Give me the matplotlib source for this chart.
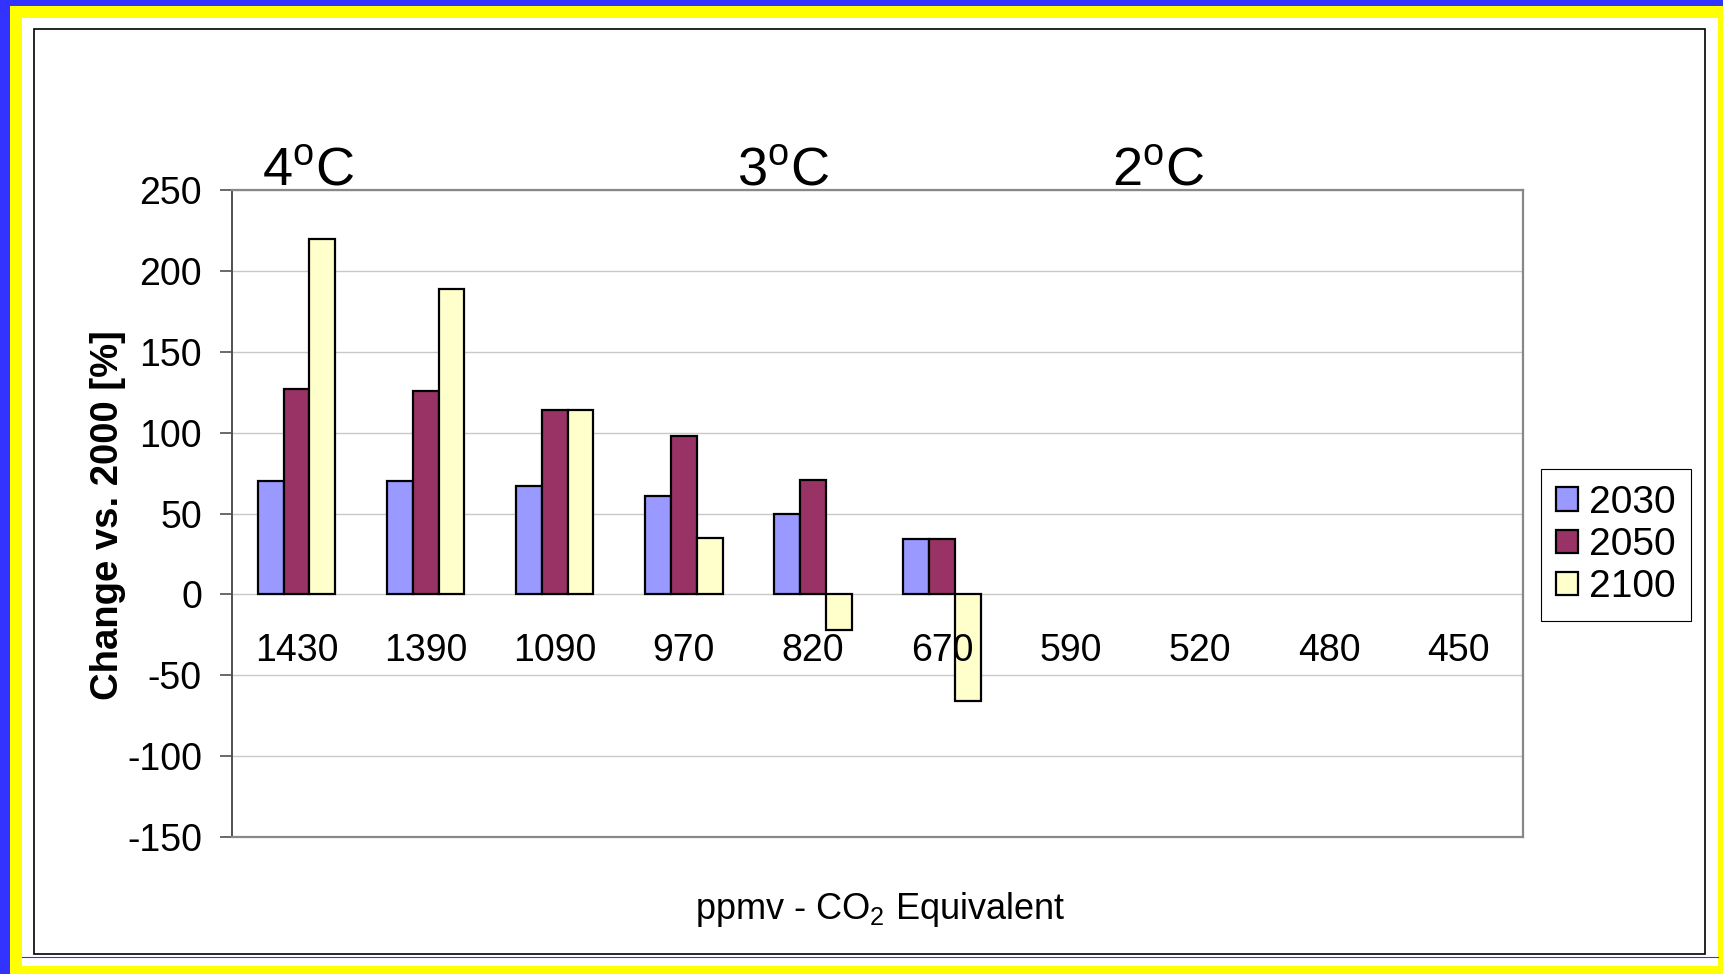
import numpy as np
import matplotlib.pyplot as plt
from matplotlib.patches import Rectangle
from matplotlib.lines import Line2D
from matplotlib.transforms import blended_transform_factory

# --- data ---
categories = ['1430', '1390', '1090', '970', '820', '670', '590', '520', '480', '450']
years = ['2030', '2050', '2100']
vals_2030 = [70, 70, 67, 61, 50, 34]
vals_2050 = [127, 126, 114, 98, 71, 34]
vals_2100 = [220, 189, 114, 35, -22, -66]
temp_labels = ['4', '3', '2']
temp_pos = [0.09, 3.77, 6.67]   # x position (category units) of the warming labels

colors = ['#9999ff', '#993366', '#ffffcc']

plt.rcParams['font.family'] = ['Liberation Sans', 'DejaVu Sans']
plt.rcParams['mathtext.fontset'] = 'custom'
plt.rcParams['mathtext.rm'] = 'Liberation Sans'
plt.rcParams['axes.unicode_minus'] = False

W, H = 1724, 974
fig = plt.figure(figsize=(W / 100, H / 100), dpi=100, facecolor='#ffff00')


def px_rect(x0, y0, x1, y1, **kw):
    fig.patches.append(Rectangle((x0 / W, 1 - y1 / H), (x1 - x0) / W, (y1 - y0) / H,
                                 transform=fig.transFigure, **kw))


# slide-style border: yellow frame, blue strips, white page, black chart frame
px_rect(22, 18, 1718, 966, facecolor='white', edgecolor='none', zorder=-10)
px_rect(0, 0, 10, H, facecolor='#3333ff', edgecolor='none', zorder=-10)
px_rect(0, 0, W, 6, facecolor='#3333ff', edgecolor='none', zorder=-10)
fig.lines.append(Line2D([22 / W, 1718 / W], [1 - 957 / H] * 2, transform=fig.transFigure,
                        color='#3333ff', lw=0.8, zorder=-5))
px_rect(34.3, 29.3, 1704.7, 954.3, facecolor='none', edgecolor='black', lw=1.2, zorder=-5)

ax = fig.add_axes([232 / W, 1 - 837 / H, (1523 - 232) / W, (837 - 190) / H])
ax.set_zorder(2)

x = np.arange(len(categories))
bw = 0.2
for k, (vals, col, lab) in enumerate(zip([vals_2030, vals_2050, vals_2100], colors, years)):
    n = len(vals)
    ax.bar(x[:n] + (k - 1) * bw, vals, bw, color=col, edgecolor='black', lw=1.6,
           label=lab, zorder=2)

ax.set_xlim(-0.5, len(categories) - 0.5)
ax.set_ylim(-150, 250)
ax.set_yticks(np.arange(-150, 251, 50))
ax.set_xticks([])
ax.set_axisbelow(True)
ax.yaxis.grid(True, color='#c8c8c8', lw=1.0)
ax.tick_params(axis='y', labelsize=27, length=8.6, width=1.2, color='#505050', pad=13)

for s in ['top', 'right', 'bottom']:
    ax.spines[s].set_color('#888888')
    ax.spines[s].set_linewidth(1.6)
ax.spines['left'].set_color('#505050')
ax.spines['left'].set_linewidth(1.4)

# category labels sit just under the zero line
for xi, lab in zip(x, categories):
    ax.annotate(lab, (xi, 0), xytext=(0, -48), textcoords='offset points',
                ha='center', va='baseline', fontsize=27, zorder=5)

# warming levels above the plot area
tr = blended_transform_factory(ax.transData, ax.transAxes)
for pos, t in zip(temp_pos, temp_labels):
    ax.text(pos, 1.0077, t + r'$^\mathregular{o}$C', transform=tr, ha='center',
            va='baseline', fontsize=39)

fig.text(108 / W, 1 - 515 / H, 'Change vs. 2000 [%]', rotation=90, ha='center',
         va='center', fontsize=27.5, fontweight='bold')
fig.text(880 / W, 1 - 919 / H, r'ppmv - CO$_\mathregular{2}$ Equivalent', ha='center',
         va='baseline', fontsize=26)

leg = ax.legend(loc='upper left', bbox_to_anchor=(1540.7 / W, 1 - 469.3 / H),
                bbox_transform=fig.transFigure, fontsize=28, fancybox=False,
                framealpha=1, edgecolor='black', handlelength=0.55, handleheight=0.55,
                handletextpad=0.3, labelspacing=0.16, borderpad=0.4,
                borderaxespad=0)
leg.get_frame().set_linewidth(0.8)

fig.savefig('out.png', dpi=100, facecolor=fig.get_facecolor())
